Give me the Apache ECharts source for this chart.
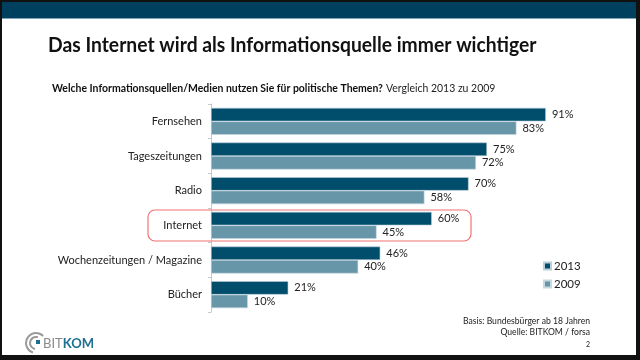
<!DOCTYPE html>
<html><head><meta charset="utf-8">
<script src="https://cdn.jsdelivr.net/npm/echarts@6/dist/echarts.min.js"></script>
<style>html,body{margin:0;padding:0;background:#fff}#c{width:640px;height:360px}</style>
</head><body><div id="c"></div>
<script>
const categories = ['Fernsehen','Tageszeitungen','Radio','Internet','Wochenzeitungen / Magazine','Bücher'];
const values2013 = [91,75,70,60,46,21];
const values2009 = [83,72,58,45,40,10];
const seriesNames = ['2013','2009'];

const FONT = 'Lato';
const chart = echarts.init(document.getElementById('c'), null, {renderer:'canvas'});
chart.setOption({
  backgroundColor:'#fff',
  animation:false,
  textStyle:{fontFamily:FONT},
  grid:{left:211, top:104, width:368, height:208, containLabel:false},
  xAxis:{type:'value', min:0, max:100, show:false},
  yAxis:{type:'category', data:categories, inverse:true,
    axisLine:{show:true, lineStyle:{color:'#c8c8c8', width:1}},
    axisTick:{show:true, length:3, lineStyle:{color:'#c8c8c8'}},
    axisLabel:{color:'#222', fontSize:11, margin:9, fontFamily:FONT}
  },
  legend:{orient:'vertical', left:538, top:255, itemWidth:7, itemHeight:7, itemGap:6,
    icon:'rect', textStyle:{fontSize:11.5, color:'#222', fontFamily:FONT, padding:[0,0,0,-2]},
    data:seriesNames},
  series:[
    {name:seriesNames[0], type:'bar', data:values2013, barWidth:13.5, barGap:'0%',
     itemStyle:{color:'#004d6c', borderColor:'#b9cfd9', borderWidth:0.6},
     label:{show:true, position:'right', distance:6, formatter:'{c}%', color:'#222', fontSize:11, fontFamily:FONT}},
    {name:seriesNames[1], type:'bar', data:values2009, barWidth:13.5, barGap:'0%',
     itemStyle:{color:'#6796a9', borderColor:'#c6d8e0', borderWidth:0.6},
     label:{show:true, position:'right', distance:6, formatter:'{c}%', color:'#222', fontSize:11, fontFamily:FONT}}
  ],
  graphic:[
    {type:'rect', shape:{x:0,y:0,width:640,height:360}, style:{fill:'#111'}, z:-10, silent:true},
    {type:'rect', shape:{x:2,y:2,width:634,height:353}, style:{fill:'#fff'}, z:-9, silent:true},
    {type:'rect', shape:{x:2,y:2,width:634,height:16}, style:{fill:'#00405f'}, z:-8, silent:true},
    {type:'rect', shape:{x:2,y:18,width:634,height:1}, style:{fill:'#7fa3b6'}, z:-8, silent:true},
    {type:'text', x:48, y:36, scaleX:0.965, style:{text:'Das Internet wird als Informationsquelle immer wichtiger',
      font:'bold 20px '+FONT, fill:'#111'}},
    {type:'text', x:52, y:82, scaleX:0.95, style:{
      text:'{b|Welche Informationsquellen/Medien nutzen Sie für politische Themen?} {n|Vergleich 2013 zu 2009}',
      rich:{b:{fontWeight:'bold', fontSize:11, fontFamily:FONT, fill:'#111'}, n:{fontSize:11, fontFamily:FONT, fill:'#222'}}}},
    {type:'rect', shape:{x:148,y:210,width:323,height:31,r:7}, style:{fill:'none', stroke:'#f07272', lineWidth:1.2}, z:10},
    {type:'text', x:590, y:316, scaleX:0.86, style:{text:'Basis: Bundesbürger ab 18 Jahren', font:'10px '+FONT, fill:'#222', align:'right'}},
    {type:'text', x:590, y:327, scaleX:0.86, style:{text:'Quelle: BITKOM / forsa', font:'10px '+FONT, fill:'#222', align:'right'}},
    {type:'text', x:590, y:341, style:{text:'2', font:'7px '+FONT, fill:'#222', align:'right'}},
    {type:'arc', shape:{cx:36, cy:343, r:10, startAngle:Math.PI*0.6, endAngle:Math.PI*1.75}, style:{stroke:'#9a9a9a', lineWidth:2, fill:'none'}},
    {type:'arc', shape:{cx:36, cy:343, r:6, startAngle:Math.PI*0.55, endAngle:Math.PI*1.6}, style:{stroke:'#9a9a9a', lineWidth:2, fill:'none'}},
    {type:'rect', shape:{x:36, y:340, width:4, height:4}, style:{fill:'#1f6f90'}},
    {type:'text', left:43, top:337, style:{text:'{g|BIT}{k|KOM}', rich:{g:{fontSize:13, fontFamily:FONT, fill:'#8a8a8a'}, k:{fontSize:13, fontWeight:'bold', fontFamily:FONT, fill:'#1f6f90'}}}}
  ]
});
</script></body></html>
